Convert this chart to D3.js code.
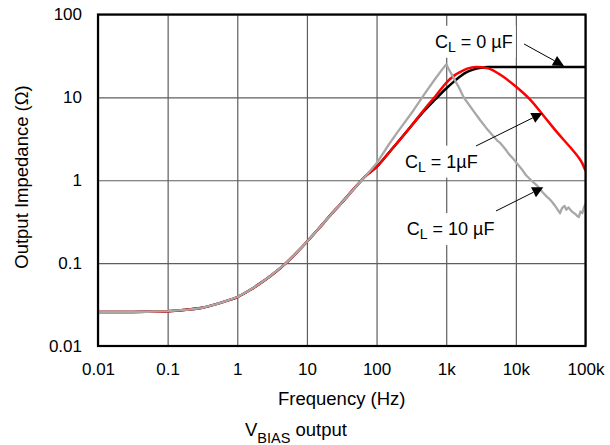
<!DOCTYPE html>
<html><head><meta charset="utf-8">
<script src="https://cdn.jsdelivr.net/npm/d3@7"></script>
<style>
body{margin:0;background:#fff}
svg{display:block}
text{font-family:"Liberation Sans",Arial,Helvetica,sans-serif;fill:#000}
</style>
</head><body>
<svg id="c" width="610" height="445"></svg>
<script>
// ---------- data ----------
const xTickValues = [0.01, 0.1, 1, 10, 100, 1000, 10000, 100000];
const xTickLabels = ["0.01", "0.1", "1", "10", "100", "1k", "10k", "100k"];
const yTickValues = [0.01, 0.1, 1, 10, 100];
const yTickLabels = ["0.01", "0.1", "1", "10", "100"];

// low-frequency part shared by all three traces (Hz, ohm)
const sharedFreq = [0.01, 0.02, 0.05, 0.1, 0.2, 0.3, 0.5, 0.7, 1, 1.5, 2, 3, 5, 7, 10, 15, 20, 30, 50, 70];
const sharedZ    = [0.0257, 0.0257, 0.0259, 0.0263, 0.0275, 0.0287, 0.032, 0.035, 0.039, 0.047, 0.055, 0.07, 0.1, 0.132, 0.181, 0.265, 0.35, 0.51, 0.83, 1.13];

// CL = 0 uF (black)
const cl0Freq = [100, 150, 200, 300, 500, 700, 1000, 1300, 1600, 2000, 2500, 3000, 3500, 4000, 5000, 10000, 20000, 50000, 100000];
const cl0Z    = [1.45, 2.15, 2.85, 4.3, 7.1, 9.5, 12.8, 15.6, 18, 20.3, 21.8, 22.6, 23.0, 23.2, 23.2, 23.2, 23.2, 23.2, 23.2];

// CL = 1 uF (red)
const cl1Freq = [100, 150, 200, 300, 500, 700, 1000, 1300, 1600, 2000, 2700, 4000, 6300, 10000, 15800, 25000, 40000, 63000, 79000, 90000, 100000];
const cl1Z    = [1.45, 2.15, 2.85, 4.3, 7.4, 10.3, 15, 18.3, 20.3, 22.2, 23.3, 22.4, 18.2, 13.5, 9.5, 6.0, 3.7, 2.4, 1.9, 1.6, 1.3];

// CL = 10 uF (grey)
const cl10Freq = [100, 150, 200, 340, 500, 700, 850, 1000, 1100, 1200, 1500, 1770, 2400, 3080, 4000, 5350, 6000, 7000, 8000, 9000, 10400, 12000, 14000, 17000, 20000, 24000, 28000, 30000, 33000, 36000, 40000, 43000, 46000, 50000, 53000, 57000, 62000, 66000, 72000, 76000, 80000, 85000, 90000, 95000, 100000];
const cl10Z    = [1.6, 2.7, 3.8, 7.0, 11.3, 16.9, 21, 25, 21.5, 18.8, 13.5, 10.1, 7.05, 5.3, 4.0, 3.03, 2.8, 2.4, 2.05, 1.85, 1.59, 1.38, 1.15, 0.98, 0.87, 0.72, 0.63, 0.60, 0.55, 0.50, 0.44, 0.40, 0.46, 0.49, 0.44, 0.47, 0.43, 0.41, 0.39, 0.37, 0.36, 0.42, 0.40, 0.47, 0.52];

// annotation labels (positions given in data units)
const annoValue = ["0 µF", "1µF", "10 µF"];
const annoTextF = [690, 256, 271];
const annoTextZ = [39.7, 1.42, 0.218];
const annoFromF = [13100, 2680, 5190];
const annoFromZ = [44.1, 2.59, 0.426];
const annoToF   = [49200, 24200, 24800];
const annoToZ   = [23.9, 6.48, 0.822];

// ---------- chart ----------
const L = 98, R = 585.5, T = 14.5, B = 346;
const x = d3.scaleLog().domain([0.01, 1e5]).range([L, R]);
const y = d3.scaleLog().domain([0.01, 100]).range([B, T]);
const svg = d3.select("#c");

svg.append("defs").append("clipPath").attr("id", "clip")
  .append("rect").attr("x", L).attr("y", T).attr("width", R - L).attr("height", B - T);

// grid
svg.append("g").attr("transform", `translate(0,${B})`)
  .call(d3.axisBottom(x).tickValues(xTickValues).tickSize(-(B - T)).tickFormat(""))
  .call(g => { g.select(".domain").remove(); g.selectAll("line").attr("stroke", "#5e5e5e").attr("stroke-width", 1.2); });
svg.append("g").attr("transform", `translate(${L},0)`)
  .call(d3.axisLeft(y).tickValues(yTickValues).tickSize(-(R - L)).tickFormat(""))
  .call(g => { g.select(".domain").remove(); g.selectAll("line").attr("stroke", "#5e5e5e").attr("stroke-width", 1.2); });

// tick labels
svg.append("g").attr("transform", `translate(0,${B})`)
  .call(d3.axisBottom(x).tickValues(xTickValues).tickSize(0).tickPadding(17).tickFormat((d, i) => xTickLabels[i]))
  .call(g => { g.select(".domain").remove(); g.selectAll("text").attr("font-size", 17).attr("font-family", "Liberation Sans, Arial, sans-serif").attr("fill", "#000"); });
svg.append("g").attr("transform", `translate(${L},0)`)
  .call(d3.axisLeft(y).tickValues(yTickValues).tickSize(0).tickPadding(16).tickFormat((d, i) => yTickLabels[i]))
  .call(g => { g.select(".domain").remove(); g.selectAll("text").attr("font-size", 17).attr("font-family", "Liberation Sans, Arial, sans-serif").attr("fill", "#000"); });

// annotation text (with white boxes masking the grid)
const annoG = svg.append("g");
const texts = [];
annoValue.forEach((v, i) => {
  const t = annoG.append("text").attr("x", x(annoTextF[i])).attr("y", y(annoTextZ[i])).attr("font-size", 18);
  t.append("tspan").text("C");
  t.append("tspan").attr("font-size", 14).attr("dy", 4).text("L");
  t.append("tspan").attr("dy", -4).text(" = " + v);
  texts.push(t);
});
texts.forEach(t => {
  const bb = t.node().getBBox();
  annoG.insert("rect", "text").attr("x", bb.x - 3).attr("y", bb.y - 6).attr("width", bb.width + 6).attr("height", bb.height + 9).attr("fill", "#fff");
});

// curves
const mk = (fa, za) => fa.map((f, i) => ({ f, z: za[i] }));
const shared = mk(sharedFreq, sharedZ);
const curvesG = svg.append("g").attr("clip-path", "url(#clip)");
const smooth = d3.line().x(d => x(d.f)).y(d => y(d.z)).curve(d3.curveMonotoneX);
const straight = d3.line().x(d => x(d.f)).y(d => y(d.z));
curvesG.append("path").attr("d", smooth(shared.concat(mk(cl0Freq, cl0Z)))).attr("fill", "none").attr("stroke", "#000").attr("stroke-width", 2.5);
curvesG.append("path").attr("d", smooth(shared.concat(mk(cl1Freq, cl1Z)))).attr("fill", "none").attr("stroke", "#ff0000").attr("stroke-width", 2.5);
curvesG.append("path").attr("d", straight(shared.concat(mk(cl10Freq, cl10Z)))).attr("fill", "none").attr("stroke", "#a8a8a8").attr("stroke-width", 2.3).attr("stroke-linejoin", "round");

// annotation arrows
annoValue.forEach((v, i) => {
  const x1 = x(annoFromF[i]), y1 = y(annoFromZ[i]), x2 = x(annoToF[i]), y2 = y(annoToZ[i]);
  const dx = x2 - x1, dy = y2 - y1, d = Math.hypot(dx, dy), ux = dx / d, uy = dy / d;
  const len = 11, hw = 5.5;
  const bx = x2 - ux * len, by = y2 - uy * len;
  annoG.append("line").attr("x1", x1).attr("y1", y1).attr("x2", bx).attr("y2", by).attr("stroke", "#000").attr("stroke-width", 1);
  annoG.append("path").attr("d", `M${x2},${y2}L${bx - uy * hw},${by + ux * hw}L${bx + uy * hw},${by - ux * hw}Z`).attr("fill", "#000");
});
annoG.raise();

// border
svg.append("rect").attr("x", L).attr("y", T).attr("width", R - L).attr("height", B - T)
  .attr("fill", "none").attr("stroke", "#000").attr("stroke-width", 2.2);

// titles
svg.append("text").attr("x", (L + R) / 2).attr("y", 405).attr("text-anchor", "middle").attr("font-size", 18.5).text("Frequency (Hz)");
svg.append("text").attr("transform", "translate(27.5,177) rotate(-90)").attr("text-anchor", "middle").attr("font-size", 18.5).text("Output Impedance (Ω)");
const vb = svg.append("text").attr("x", 245).attr("y", 436).attr("font-size", 18.5);
vb.append("tspan").text("V");
vb.append("tspan").attr("font-size", 14.5).attr("dy", 6.5).text("BIAS");
vb.append("tspan").attr("dy", -6.5).text(" output");
</script>
</body></html>
